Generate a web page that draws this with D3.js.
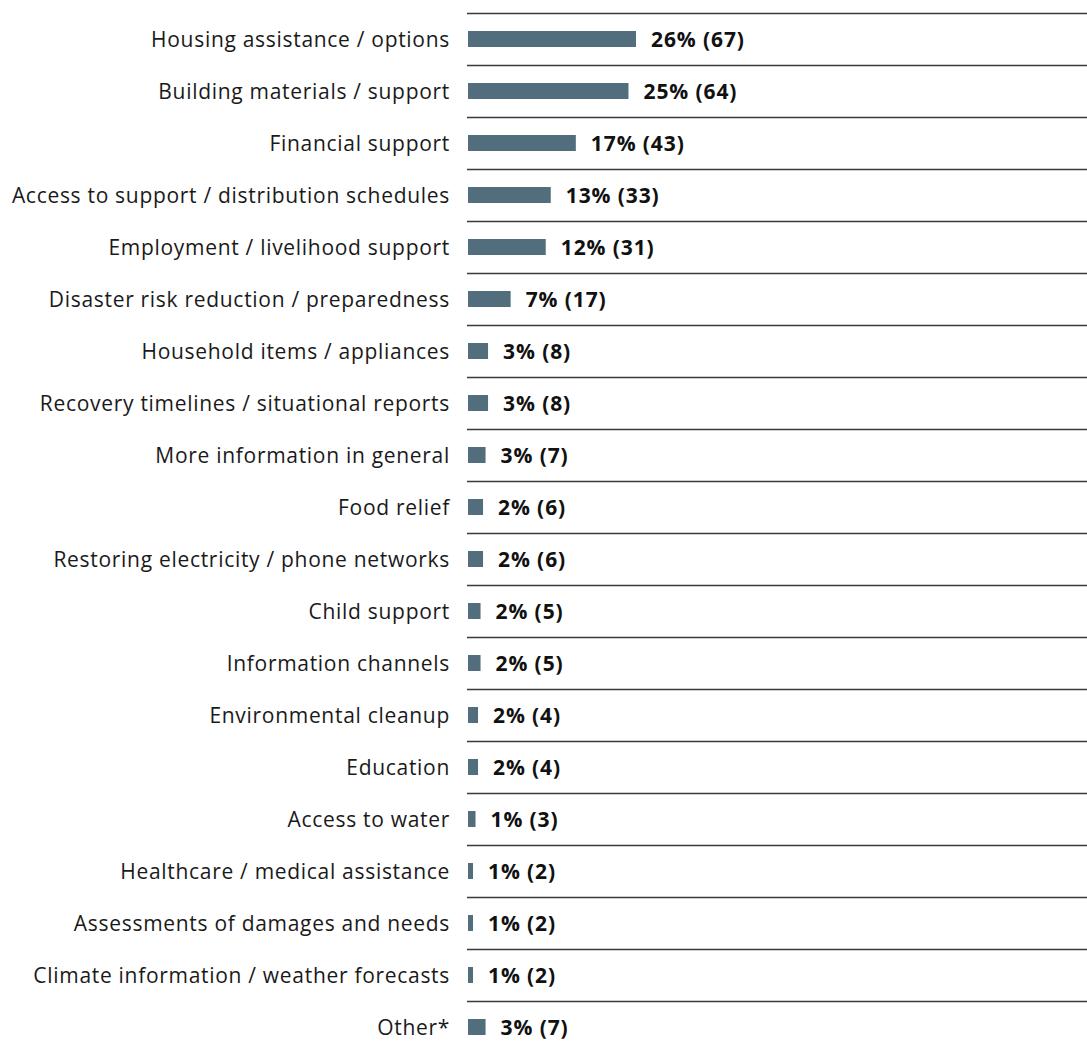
<!DOCTYPE html>
<html>
<head>
<meta charset="utf-8">
<script src="https://cdn.jsdelivr.net/npm/d3@7"></script>
<style>
  html, body { margin: 0; padding: 0; background: #ffffff; }
  svg { display: block; }
</style>
</head>
<body>
<svg id="chart" width="1087" height="1043"></svg>
<script>
// Responses by topic: share of respondents and count
const categories = [
  "Housing assistance / options",
  "Building materials / support",
  "Financial support",
  "Access to support / distribution schedules",
  "Employment / livelihood support",
  "Disaster risk reduction / preparedness",
  "Household items / appliances",
  "Recovery timelines / situational reports",
  "More information in general",
  "Food relief",
  "Restoring electricity / phone networks",
  "Child support",
  "Information channels",
  "Environmental cleanup",
  "Education",
  "Access to water",
  "Healthcare / medical assistance",
  "Assessments of damages and needs",
  "Climate information / weather forecasts",
  "Other*"
];
const counts = [67, 64, 43, 33, 31, 17, 8, 8, 7, 6, 6, 5, 5, 4, 4, 3, 2, 2, 2, 7];
const percents = [26, 25, 17, 13, 12, 7, 3, 3, 3, 2, 2, 2, 2, 2, 2, 1, 1, 1, 1, 3];

const svg = d3.select("#chart");
const width = 1087;
const font = "'Open Sans', 'Noto Sans', sans-serif";

const y = d3.scaleBand()
  .domain(categories)
  .range([13, 13 + 52 * categories.length])
  .padding(0);

const x = d3.scaleLinear()
  .domain([0, 67])
  .range([468, 636]);

const barH = 16;
const rows = svg.selectAll("g.row")
  .data(categories)
  .join("g")
  .attr("class", "row");

// separator line at the top of each row
rows.append("line")
  .attr("x1", 467)
  .attr("x2", width)
  .attr("y1", d => y(d) + 0.5)
  .attr("y2", d => y(d) + 0.5)
  .attr("stroke", "#3a3a3a")
  .attr("stroke-width", 1.3);

// category labels
rows.append("text")
  .attr("x", 450)
  .attr("y", d => y(d) + y.bandwidth() / 2)
  .attr("dy", "0.36em")
  .attr("text-anchor", "end")
  .attr("font-family", font)
  .attr("font-size", 21)
  .attr("letter-spacing", "0.7px")
  .attr("fill", "#1a1a1a")
  .text(d => d);

// bars
rows.append("rect")
  .attr("x", x(0))
  .attr("y", d => y(d) + y.bandwidth() / 2 - barH / 2)
  .attr("width", (d, i) => x(counts[i]) - x(0))
  .attr("height", barH)
  .attr("fill", "#526d7b");

// value labels
rows.append("text")
  .attr("x", (d, i) => x(counts[i]) + 15)
  .attr("y", d => y(d) + y.bandwidth() / 2)
  .attr("dy", "0.36em")
  .attr("font-family", font)
  .attr("font-weight", "bold")
  .attr("font-size", 21)
  .attr("letter-spacing", "0.9px")
  .attr("fill", "#111")
  .text((d, i) => `${percents[i]}% (${counts[i]})`);
</script>
</body>
</html>
